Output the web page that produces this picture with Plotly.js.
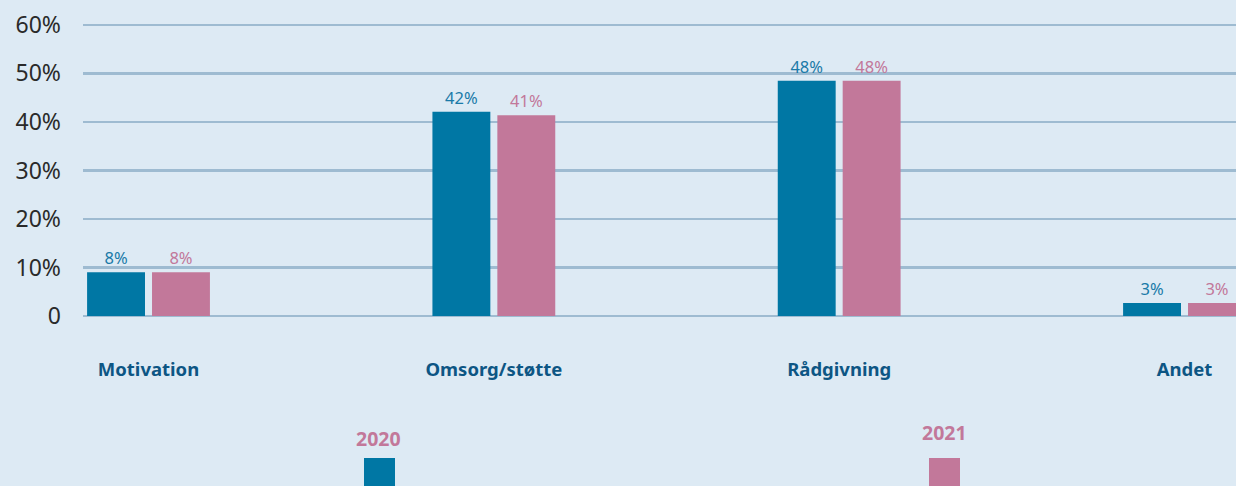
<!DOCTYPE html>
<html><head><meta charset="utf-8">
<script src="https://cdn.plot.ly/plotly-3.0.1.min.js"></script>
<style>html,body{margin:0;padding:0;background:#ddeaf4;}#chart{width:1236px;height:486px;}</style>
</head><body><div id="chart"></div>
<script>
const categories = ["Motivation", "Omsorg/støtte", "Rådgivning", "Andet"];
const values2020 = [9.0, 42.1, 48.5, 2.7];
const values2021 = [9.0, 41.4, 48.5, 2.7];
const labels2020 = ["8%", "42%", "48%", "3%"];
const labels2021 = ["8%", "41%", "48%", "3%"];
const seriesNames = ["2020", "2021"];
const yTickVals = [0, 10, 20, 30, 40, 50, 60];
const yTickText = ["0", "10%", "20%", "30%", "40%", "50%", "60%"];

const blue = "#0077a4", pink = "#c2789a";
const labelFont = {family: "Noto Sans, Open Sans, sans-serif", size: 16.5};

const traces = [
  {type: "bar", x: categories.map((c,i)=>i), y: values2020, name: seriesNames[0],
   marker: {color: blue}, text: labels2020, textposition: "outside", cliponaxis: false,
   textfont: Object.assign({color: "#1a7aa8"}, labelFont), hoverinfo: "skip"},
  {type: "bar", x: categories.map((c,i)=>i), y: values2021, name: seriesNames[1],
   marker: {color: pink}, text: labels2021, textposition: "outside", cliponaxis: false,
   textfont: Object.assign({color: pink}, labelFont), hoverinfo: "skip"}
];

const T = 22, B = 170, L = 83, H = 486, W = 1236;
const PH = H - T - B, PW = W - L;
const px = v => (v - L) / PW;
const py = v => (H - B - v) / PH;

const layout = {
  width: W, height: H,
  margin: {l: L, r: 0, t: T, b: B},
  paper_bgcolor: "#ddeaf4", plot_bgcolor: "rgba(0,0,0,0)",
  showlegend: false,
  barmode: "group", bargap: 0.624, bargroupgap: 0.108,
  font: {family: "Noto Sans, Open Sans, sans-serif"},
  xaxis: {
    range: [-0.1897, 3.1491], tickvals: [0,1,2,3],
    ticktext: categories.map(c => "<b>" + c + "</b>"),
    tickfont: {size: 18.5, color: "#0d5684", family: "Noto Sans, sans-serif"},
    ticks: "", ticklabelstandoff: 40, showgrid: false, zeroline: false, showline: false
  },
  yaxis: {
    range: [0, 60.6], tickvals: yTickVals, ticktext: yTickText,
    tickfont: {size: 23, color: "#2a2a2a", family: "Noto Sans, sans-serif"},
    ticks: "", ticklabelstandoff: 21, showgrid: true, gridcolor: "#9ebbd1", gridwidth: 2.5,
    zeroline: true, zerolinecolor: "#9ebbd1", zerolinewidth: 2.5, showline: false
  },
  annotations: [
    {xref: "paper", yref: "paper", x: px(378), y: py(438), text: "<b>" + seriesNames[0] + "</b>",
     showarrow: false, font: {size: 19.5, color: pink}, xanchor: "center", yanchor: "middle"},
    {xref: "paper", yref: "paper", x: px(944), y: py(432), text: "<b>" + seriesNames[1] + "</b>",
     showarrow: false, font: {size: 19.5, color: pink}, xanchor: "center", yanchor: "middle"}
  ],
  shapes: [
    {type: "rect", xref: "paper", yref: "paper", x0: px(364), x1: px(395),
     y0: py(458), y1: py(490), fillcolor: blue, line: {width: 0}},
    {type: "rect", xref: "paper", yref: "paper", x0: px(929), x1: px(960),
     y0: py(458), y1: py(490), fillcolor: pink, line: {width: 0}}
  ]
};

Plotly.newPlot("chart", traces, layout, {displayModeBar: false, staticPlot: true});
</script></body></html>
